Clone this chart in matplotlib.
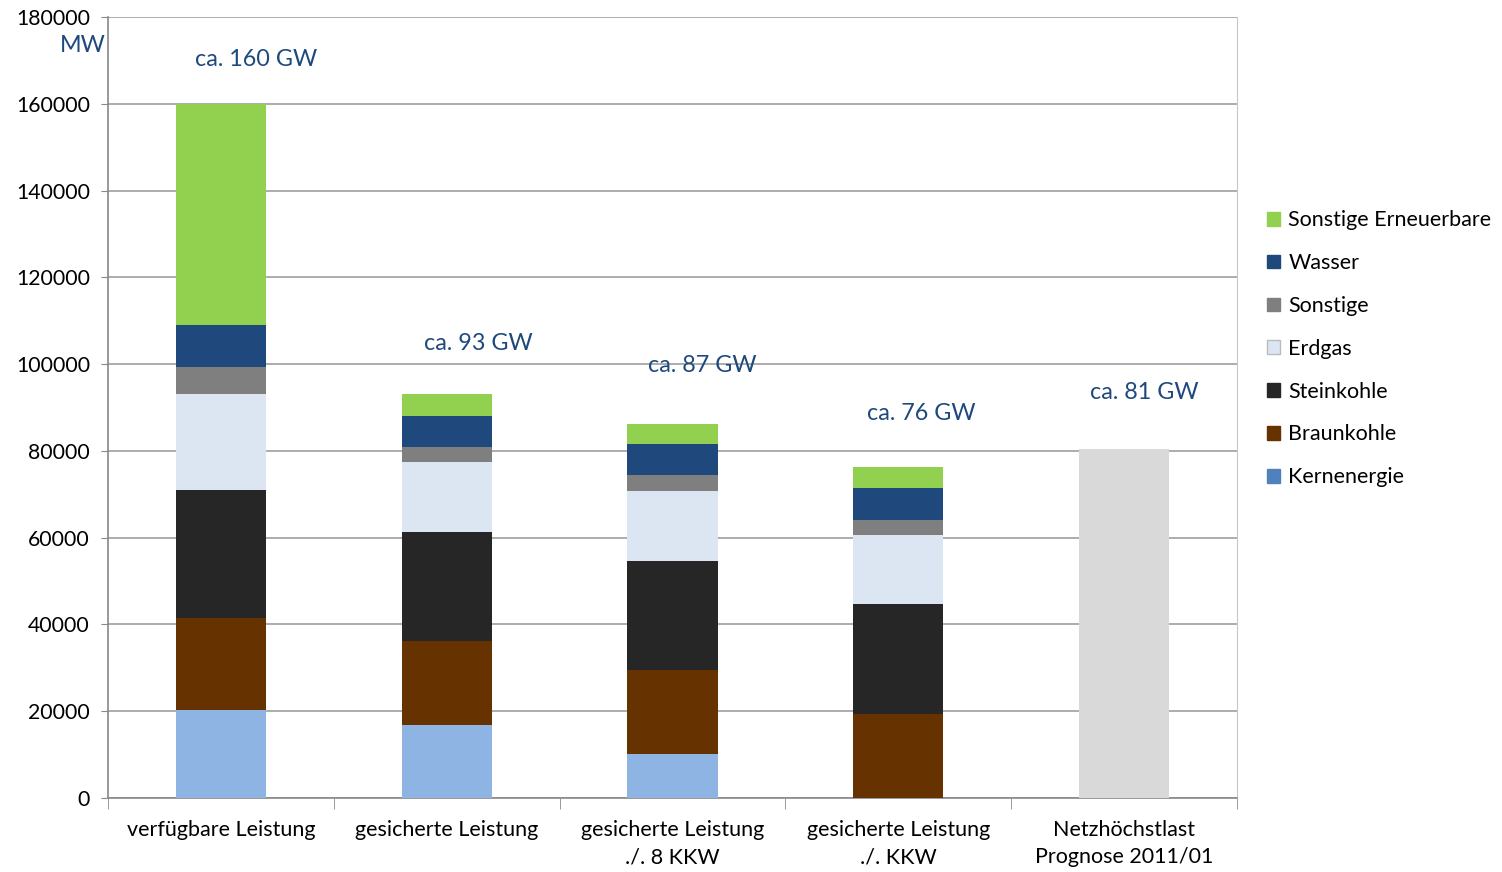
import numpy as np
import matplotlib.pyplot as plt
from matplotlib.patches import Patch

plt.rcParams['font.family'] = ['Lato', 'DejaVu Sans']

# data (MW)
categories = ['verfügbare Leistung', 'gesicherte Leistung', 'gesicherte Leistung\n./. 8 KKW',
              'gesicherte Leistung\n./. KKW', 'Netzhöchstlast\nPrognose 2011/01']
kernenergie = [20300, 16800, 10100, 0, 0]
braunkohle = [21100, 19300, 19300, 19300, 0]
steinkohle = [29500, 25300, 25300, 25300, 0]
erdgas = [22300, 16100, 16100, 15900, 0]
sonstige = [6200, 3500, 3700, 3500, 0]
wasser = [9700, 7100, 7100, 7400, 0]
sonstige_ee = [50900, 5100, 4600, 4800, 0]
netzlast = [0, 0, 0, 0, 80400]
labels_gw = ['ca. 160 GW', 'ca. 93 GW', 'ca. 87 GW', 'ca. 76 GW', 'ca. 81 GW']
label_x = [0.155, 1.14, 2.13, 3.1, 4.09]
label_y = [170300, 104700, 99700, 88600, 93500]

series = [
    ('Kernenergie', kernenergie, '#8EB4E3'),
    ('Braunkohle', braunkohle, '#663300'),
    ('Steinkohle', steinkohle, '#262626'),
    ('Erdgas', erdgas, '#DCE6F2'),
    ('Sonstige', sonstige, '#7F7F7F'),
    ('Wasser', wasser, '#1F497D'),
    ('Sonstige Erneuerbare', sonstige_ee, '#92D050'),
]
legend_cols = {'Kernenergie': '#4F81BD'}

fig = plt.figure(figsize=(15.02, 8.72), dpi=100)
ax = fig.add_axes([0.0719, 0.0849, 0.7517, 0.8956])

x = np.arange(len(categories))
bottom = np.zeros(len(categories))
for name, vals, col in series:
    ax.bar(x, vals, 0.4, bottom=bottom, color=col, zorder=3)
    bottom += np.array(vals)
ax.bar(x, netzlast, 0.4, color='#D9D9D9', zorder=3)

for t, lx, ly in zip(labels_gw, label_x, label_y):
    ax.text(lx, ly, t, ha='center', va='center', fontsize=16.8, color='#1F497D')

ax.set_xlim(-0.5, 4.5)
ax.set_ylim(0, 180000)
ax.set_yticks(np.arange(0, 180001, 20000))
ax.tick_params(axis='y', labelsize=15.3, length=5, color='#888888', pad=8)
ax.grid(axis='y', color='#9E9E9E', linewidth=1.2, zorder=0)

ax.set_xticks(x)
ax.set_xticklabels(categories, fontsize=15.5, linespacing=1.45)
ax.tick_params(axis='x', length=0, pad=16)
ax.set_xticks(np.arange(-0.5, 5, 1), minor=True)
ax.tick_params(axis='x', which='minor', length=8, color='#888888')

for s in ['left', 'bottom']:
    ax.spines[s].set_color('#888888')
    ax.spines[s].set_linewidth(1.2)
ax.spines['top'].set_visible(False)
ax.spines['right'].set_color('#C8C8C8')

fig.text(0.055, 0.948, 'MW', fontsize=16.8, color='#1F497D', ha='center', va='center')

handles = [Patch(facecolor=legend_cols.get(n, c), edgecolor='#BBBBBB' if n == 'Erdgas' else legend_cols.get(n, c), label=n)
           for n, v, c in series][::-1]
fig.legend(handles=handles, loc='upper left', bbox_to_anchor=(0.8305, 0.781), frameon=False,
           fontsize=15.5, labelspacing=1.06, handlelength=0.6, handleheight=0.6, handletextpad=0.4)

fig.savefig('out.png', dpi=100)
